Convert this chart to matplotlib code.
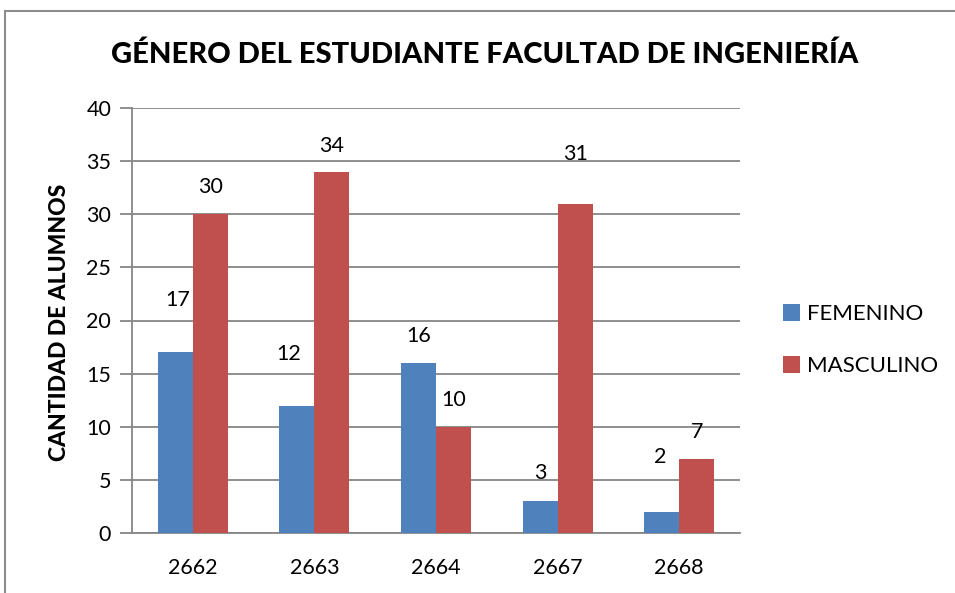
import matplotlib
matplotlib.use("Agg")
import matplotlib.pyplot as plt
from matplotlib.lines import Line2D
import numpy as np

categories = ["2662", "2663", "2664", "2667", "2668"]
femenino = [17, 12, 16, 3, 2]
masculino = [30, 34, 10, 31, 7]
series_names = ["FEMENINO", "MASCULINO"]
title = "GÉNERO DEL ESTUDIANTE FACULTAD DE INGENIERÍA"
ylabel = "CANTIDAD DE ALUMNOS"
yticks = [0, 5, 10, 15, 20, 25, 30, 35, 40]

# label offsets (pixels) to mimic the original placement
fem_off = [(2, 52), (-8, 52), (0, 27), (0, 28), (-2, 55)]
mas_off = [(0, 27), (0, 26), (0, 27), (0, 50), (0, 27)]

plt.rcParams['font.family'] = ['Lato', 'DejaVu Sans']

W, H = 955, 593
fig = plt.figure(figsize=(W / 100, H / 100), dpi=100)
ax = fig.add_axes([132 / W, 1 - 533 / H, (740 - 132) / W, (533 - 108) / H])

blue = "#4F81BD"
red = "#C0504D"
grid = "#868686"
fs = 15.5

x = np.arange(len(categories))
bw = 0.288
b1 = ax.bar(x - bw / 2, femenino, bw, color=blue, label=series_names[0], zorder=3)
b2 = ax.bar(x + bw / 2, masculino, bw, color=red, label=series_names[1], zorder=3)

for rect, v, off in zip(b1, femenino, fem_off):
    ax.annotate(str(v), (rect.get_x() + rect.get_width() / 2, v), xytext=off,
                textcoords="offset pixels", ha="center", va="center", fontsize=fs)
for rect, v, off in zip(b2, masculino, mas_off):
    ax.annotate(str(v), (rect.get_x() + rect.get_width() / 2, v), xytext=off,
                textcoords="offset pixels", ha="center", va="center", fontsize=fs)

ax.set_xlim(-0.5, len(categories) - 0.5)
ax.set_ylim(0, 40)
ax.set_yticks(yticks)
ax.set_xticks(x)
ax.set_xticklabels(categories)
ax.yaxis.grid(True, color=grid, linewidth=1.3, zorder=0)
ax.set_axisbelow(True)
for s in ["top", "right"]:
    ax.spines[s].set_visible(False)
ax.spines["left"].set_color(grid)
ax.spines["left"].set_linewidth(1.3)
ax.spines["bottom"].set_color(grid)
ax.spines["bottom"].set_linewidth(1.3)
ax.tick_params(axis="y", length=9, color=grid, width=1.3, labelsize=fs, pad=6)
ax.tick_params(axis="x", length=0, labelsize=fs, pad=18)

fig.text(60 / W, 1 - 322 / H, ylabel, rotation=90, ha="center", va="center",
         fontsize=16.5, fontweight="black")
fig.text(485 / W, 1 - 55 / H, title, ha="center", va="center", fontsize=21, fontweight="black")

ax.legend(loc="center left", bbox_to_anchor=(783 / W, 1 - 340 / H),
          bbox_transform=fig.transFigure, frameon=False, fontsize=16,
          borderpad=0, borderaxespad=0,
          handlelength=0.78, handleheight=0.78, labelspacing=1.45, handletextpad=0.3)

# figure border (left and top visible)
fig.add_artist(Line2D([5 / W, 5 / W], [0, 1 - 11 / H], color="#8c8c8c", linewidth=1.5, transform=fig.transFigure))
fig.add_artist(Line2D([5 / W, 1], [1 - 11 / H, 1 - 11 / H], color="#8c8c8c", linewidth=1.5, transform=fig.transFigure))

fig.savefig("out.png", dpi=100)
